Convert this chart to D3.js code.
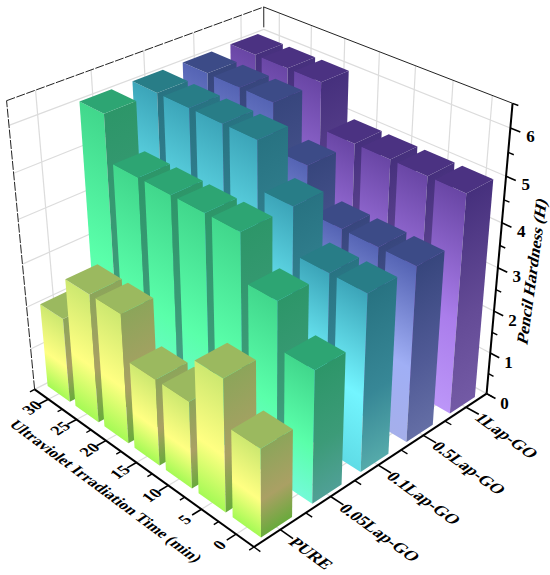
<!DOCTYPE html>
<html><head><meta charset="utf-8">
<script src="https://cdn.jsdelivr.net/npm/d3@7"></script>
<style>html,body{margin:0;padding:0;background:#fff}svg{display:block}</style></head>
<body><svg id="c" width="550" height="575"></svg>
<script>
// ---- data ----
const times = [0, 5, 10, 15, 20, 25, 30];
const categories = ["PURE", "0.05Lap-GO", "0.1Lap-GO", "0.5Lap-GO", "1Lap-GO"];
const pure   = [2, 3, 2, 2, 3, 3, 2];
const lap005 = [3, 4, 5, 5, 5, 5, 6];
const lap01  = [4, 4, 5, 6, 6, 6, 6];
const lap05  = [4, 4, 4, 5, 6, 6, 6];
const lap1   = [5, 5, 5, 5, 6, 6, 6];
const zTicks = [0, 1, 2, 3, 4, 5, 6];
const zMinor = [0.5, 1.5, 2.5, 3.5, 4.5, 5.5, 6.5];
const series = [pure, lap005, lap01, lap05, lap1];

// ---- styles: [bottom, lower-middle, top] of each bar face ----
const ramps = [
  {front:["rgb(165,250,85)","rgb(255,255,130)","rgb(205,232,112)"], side:["rgb(105,170,60)","rgb(170,160,100)","rgb(140,165,90)"], top:"rgb(155,185,95)"},
  {front:["rgb(115,250,215)","rgb(90,255,170)","rgb(65,215,140)"], side:["rgb(80,160,150)","rgb(60,155,120)","rgb(45,150,105)"], top:"rgb(45,165,115)"},
  {front:["rgb(95,220,230)","rgb(115,245,255)","rgb(60,165,185)"], side:["rgb(85,170,170)","rgb(55,135,150)","rgb(40,115,130)"], top:"rgb(40,125,135)"},
  {front:["rgb(165,175,235)","rgb(160,175,245)","rgb(85,100,180)"], side:["rgb(100,110,165)","rgb(80,90,150)","rgb(55,70,125)"], top:"rgb(60,75,135)"},
  {front:["rgb(188,150,248)","rgb(170,125,235)","rgb(105,70,165)"], side:["rgb(115,90,165)","rgb(100,75,150)","rgb(70,48,125)"], top:"rgb(75,50,130)"}
];

// ---- camera: image positions of the cube's corners, fit projectively ----
const cornerFit = [
  [[0,0,0],[254,547]],[[1,0,0],[35,390]],[[0,1,0],[487,393]],
  [[1,0,1],[7,100]],[[0,1,1],[513,104]],[[1,1,1],[263,7]]
];
function solve(A,b){
  const n=b.length,M=A.map((r,i)=>[...r,b[i]]);
  for(let i=0;i<n;i++){
    let p=i;for(let k=i+1;k<n;k++)if(Math.abs(M[k][i])>Math.abs(M[p][i]))p=k;
    [M[i],M[p]]=[M[p],M[i]];
    for(let k=0;k<n;k++)if(k!==i){const f=M[k][i]/M[i][i];for(let j=i;j<=n;j++)M[k][j]-=f*M[i][j];}
  }
  return M.map((r,i)=>r[n]/r[i]);
}
const eqA=[],eqB=[];
cornerFit.forEach(([[x,y,z],[u,v]])=>{
  if(!x&&!y&&!z)return;
  eqA.push([x,y,z,0,0,0,-u*x,-u*y,-u*z]);eqB.push(u-254);
  eqA.push([0,0,0,x,y,z,-v*x,-v*y,-v*z]);eqB.push(v-547);
});
const N=eqA[0].map((_,i)=>eqA[0].map((_,j)=>d3.sum(eqA,r=>r[i]*r[j])));
const R=eqA[0].map((_,i)=>d3.sum(eqA,(r,k)=>r[i]*eqB[k]));
const cam=solve(N,R);
function proj(x,y,z){
  const w=1+cam[6]*x+cam[7]*y+cam[8]*z;
  return [(254+cam[0]*x+cam[1]*y+cam[2]*z)/w,(547+cam[3]*x+cam[4]*y+cam[5]*z)/w];
}

// ---- scales ----
const xS=d3.scaleBand().domain(times).range([0,1]).paddingInner(.2).paddingOuter(.1);
const yS=d3.scaleBand().domain(categories).range([0,1]).paddingInner(.4).paddingOuter(.2);
const zS=d3.scaleLinear().domain([0,6.5]).range([0,1]);
const xC=t=>xS(t)+xS.bandwidth()/2, yC=c=>yS(c)+yS.bandwidth()/2;

const svg=d3.select("#c"),defs=svg.append("defs");
const line=d3.line();
const poly=(pts)=>line(pts)+"Z";

// ---- walls ----
const grid=svg.append("g").attr("fill","none").attr("stroke","#dcdcdc").attr("stroke-width",1.2);
const seg=(g,a,b)=>g.append("path").attr("d",line([proj(...a),proj(...b)]));
zTicks.forEach(z=>{const k=zS(z);
  if(z===0)return;
  seg(grid,[1,0,k],[1,1,k]);seg(grid,[1,1,k],[0,1,k]);});
categories.forEach(c=>{seg(grid,[1,yC(c),0],[1,yC(c),1]);seg(grid,[0,yC(c),0],[1,yC(c),0]);});
times.forEach(t=>{seg(grid,[xC(t),1,0],[xC(t),1,1]);seg(grid,[xC(t),0,0],[xC(t),1,0]);});
seg(grid,[1,0,0],[1,1,0]);seg(grid,[1,1,0],[0,1,0]);

// ---- frame ----
const frame=svg.append("g").attr("fill","none").attr("stroke","#222").attr("stroke-width",1);
seg(frame,[1,0,0],[1,0,1]).attr("stroke-dasharray","9 1.5");
seg(frame,[1,0,1],[1,1,1]).attr("stroke-dasharray","9 1.5");
seg(frame,[1,1,1],[0,1,1]);
seg(frame,[1,1,1],[1,1,.93]);

// ---- bars, back to front ----
const bars=svg.append("g");
function faceGradient(id,stops,a,b,c,d){
  const ex=b[0]-a[0],ey=b[1]-a[1],L=Math.hypot(ex,ey),ux=ex/L,uy=ey/L;
  const mb=[(a[0]+b[0])/2,(a[1]+b[1])/2],mt=[(c[0]+d[0])/2,(c[1]+d[1])/2];
  const vx=mt[0]-mb[0],vy=mt[1]-mb[1],dot=vx*ux+vy*uy;
  const g=defs.append("linearGradient").attr("id",id).attr("gradientUnits","userSpaceOnUse")
    .attr("x1",mb[0]).attr("y1",mb[1]).attr("x2",mb[0]+vx-dot*ux).attr("y2",mb[1]+vy-dot*uy);
  [0,.42,1].forEach((o,i)=>g.append("stop").attr("offset",o).attr("stop-color",stops[i]));
  return `url(#${id})`;
}
d3.range(categories.length-1,-1,-1).forEach(ci=>{
  const cat=categories[ci],ramp=ramps[ci],vals=series[ci];
  d3.range(times.length-1,-1,-1).forEach(ti=>{
    const t=times[ti],v=vals[ti];
    const x0=xS(t),x1=x0+xS.bandwidth(),y0=yS(cat),y1=y0+yS.bandwidth(),h=zS(v);
    const fp=[proj(x0,y0,0),proj(x1,y0,0),proj(x1,y0,h),proj(x0,y0,h)];
    const sp=[proj(x0,y0,0),proj(x0,y1,0),proj(x0,y1,h),proj(x0,y0,h)];
    bars.append("path").attr("d",poly(fp)).attr("fill",faceGradient(`f${ci}_${ti}`,ramp.front,...fp));
    bars.append("path").attr("d",poly(sp)).attr("fill",faceGradient(`s${ci}_${ti}`,ramp.side,...sp));
    bars.append("path").attr("d",poly([proj(x0,y0,h),proj(x1,y0,h),proj(x1,y1,h),proj(x0,y1,h)])).attr("fill",ramp.top);
  });
});

// ---- axes ----
const ax=svg.append("g").attr("fill","none").attr("stroke","#000");
seg(ax,[0,0,0],[1,0,0]).attr("stroke-width",2);
seg(ax,[0,0,0],[0,1,0]).attr("stroke-width",2);
seg(ax,[0,1,0],[0,1,1]).attr("stroke-width",2);
const font='"Liberation Serif","Times New Roman",serif';
const unit=(a,b)=>{const p=proj(...a),q=proj(...b),L=Math.hypot(q[0]-p[0],q[1]-p[1]);return [(q[0]-p[0])/L,(q[1]-p[1])/L];};
const label=(txt,p,base,down,size,anchor="middle")=>svg.append("text").text(txt)
  .attr("transform",`matrix(${base[0]} ${base[1]} ${down[0]} ${down[1]} ${p[0]} ${p[1]})`)
  .attr("font-family",font).attr("font-weight","bold").attr("font-size",size)
  .attr("text-anchor",anchor).attr("dominant-baseline","central").attr("fill","#000");
const alongX=unit([1,0,0],[0,0,0]);
const alongY=unit([0,0,0],[0,1,0]);
const downY=[-alongY[0],-alongY[1]];
// time axis
times.forEach(t=>{
  const c=xC(t);seg(ax,[c,0,0],[c,-.035,0]).attr("stroke-width",1.6);
  label(t,proj(c,-.062,0),alongY,alongX,16.5);
});
d3.range(0,8).forEach(i=>{seg(ax,[i/7,0,0],[i/7,-.018,0]).attr("stroke-width",1.4);});
// category axis
categories.forEach(c=>{
  const k=yC(c);seg(ax,[0,k,0],[-.05,k,0]).attr("stroke-width",1.6);
  label(c,proj(-.052,k-.006,0),alongX,downY,17,"start");
});
d3.range(0,6).forEach(i=>{seg(ax,[0,i/5,0],[-.025,i/5,0]).attr("stroke-width",1.4);});
// z axis
zTicks.forEach(z=>{
  seg(ax,[0,1,zS(z)],[-.035,1,zS(z)]).attr("stroke-width",1.6);
  label(z,proj(-.07,1,zS(z)),[1,0],[0,1],17);
});
zMinor.forEach(z=>seg(ax,[0,1,zS(z)],[-.02,1,zS(z)]).attr("stroke-width",1.4));
// titles
const zBase=[20/149.3,-148/149.3];
label("Pencil Hardness (H)",[532,271],zBase,[0.9,0.42],17);
label("Ultraviolet Irradiation Time (min)",[106,491],[0.803,0.596],downY,15.8);
</script></body></html>
